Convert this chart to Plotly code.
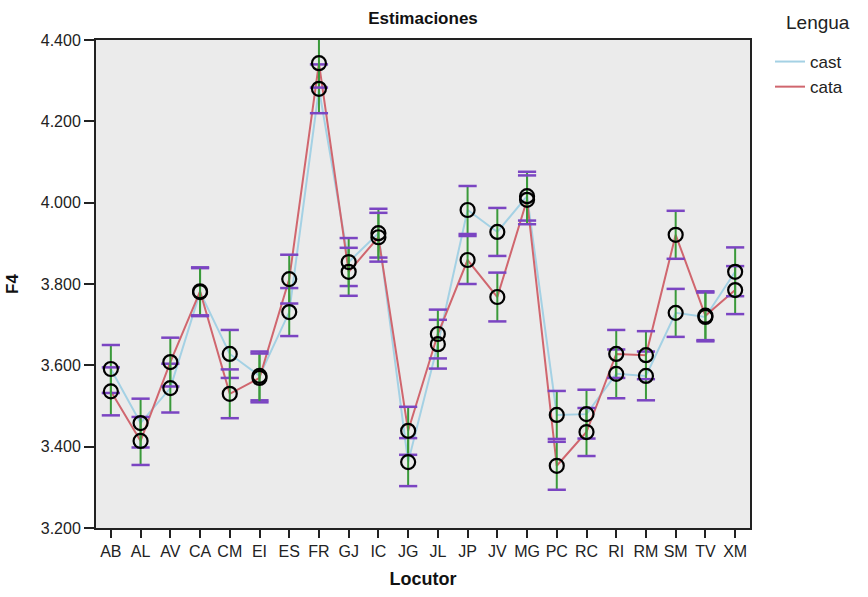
import plotly.graph_objects as go

categories = ["AB", "AL", "AV", "CA", "CM", "EI", "ES", "FR", "GJ", "IC", "JG",
              "JL", "JP", "JV", "MG", "PC", "RC", "RI", "RM", "SM", "TV", "XM"]
cast = [3.591, 3.458, 3.544, 3.780, 3.628, 3.574, 3.731, 4.280, 3.854, 3.925, 3.362,
        3.652, 3.982, 3.928, 4.016, 3.478, 3.480, 3.579, 3.574, 3.729, 3.719, 3.830]
cata = [3.536, 3.414, 3.608, 3.782, 3.530, 3.569, 3.812, 4.343, 3.830, 3.915, 3.439,
        3.677, 3.859, 3.768, 4.007, 3.353, 3.436, 3.628, 3.625, 3.921, 3.722, 3.785]
cast_err = [0.059, 0.060, 0.060, 0.059, 0.059, 0.060, 0.059, 0.060, 0.059, 0.060, 0.059,
            0.060, 0.059, 0.059, 0.060, 0.059, 0.060, 0.060, 0.060, 0.059, 0.060, 0.060]
cata_err = [0.059, 0.059, 0.060, 0.059, 0.060, 0.060, 0.060, 0.060, 0.059, 0.060, 0.059,
            0.060, 0.059, 0.060, 0.060, 0.059, 0.059, 0.059, 0.059, 0.059, 0.060, 0.059]
series = [("cast", cast, cast_err, "#A4D1E4"), ("cata", cata, cata_err, "#D0666E")]
yticks = [3.2, 3.4, 3.6, 3.8, 4.0, 4.2, 4.4]
ytick_text = ["3.200", "3.400", "3.600", "3.800", "4.000", "4.200", "4.400"]

GREEN = "#3A9A3A"
PURPLE = "#7B45C2"

W, H = 868, 597
ML, MR, MT, MB = 96, 118, 40, 69
PW = W - ML - MR
PH = H - MT - MB

fig = go.Figure()

# lines (legend)
for name, vals, err, col in series:
    fig.add_trace(go.Scatter(x=categories, y=vals, mode="lines", name=name,
                             line=dict(color=col, width=2)))

# error bars: green stems, purple caps
for name, vals, err, col in series:
    fig.add_trace(go.Scatter(x=categories, y=vals, mode="markers", showlegend=False,
                             marker=dict(size=1, color="rgba(0,0,0,0)"),
                             error_y=dict(type="data", array=err, color=GREEN,
                                          thickness=2, width=0),
                             hoverinfo="skip"))
    top = [v + e for v, e in zip(vals, err)]
    bot = [v - e for v, e in zip(vals, err)]
    fig.add_trace(go.Scatter(x=categories + categories, y=top + bot, mode="markers",
                             showlegend=False, hoverinfo="skip",
                             marker=dict(symbol="line-ew", size=13,
                                         line=dict(color=PURPLE, width=2.5))))

# markers
for name, vals, err, col in series:
    fig.add_trace(go.Scatter(x=categories, y=vals, mode="markers", showlegend=False,
                             marker=dict(symbol="circle-open", size=14, color="black",
                                         line=dict(color="black", width=2.2))))

FONT = "Liberation Sans, Arial, sans-serif"
fig.update_layout(
    width=W, height=H,
    margin=dict(l=ML, r=MR, t=MT, b=MB),
    paper_bgcolor="white", plot_bgcolor="#EBEBEB",
    font=dict(family=FONT, size=16, color="#222"),
    title=dict(text="<b>Estimaciones</b>", x=(ML + PW / 2) / W, xanchor="center",
               y=1 - 18 / H, yanchor="middle", font=dict(size=17, color="#111")),
    legend=dict(x=(770 - ML) / PW, y=1 + (MT - 44) / PH, xanchor="left", yanchor="top",
                font=dict(size=17, color="#222"), bgcolor="rgba(0,0,0,0)",
                tracegroupgap=0, itemwidth=30),
    showlegend=True,
    annotations=[dict(text="Lengua", xref="paper", yref="paper",
                      x=(818 - ML) / PW, y=1 + (MT - 22) / PH, xanchor="center",
                      yanchor="middle", showarrow=False,
                      font=dict(size=19, color="#222"))],
)
fig.update_xaxes(
    type="category", categoryorder="array", categoryarray=categories,
    range=[-0.5, len(categories) - 0.5],
    showline=True, linecolor="#222", linewidth=2, mirror=True,
    ticks="outside", ticklen=8, tickwidth=1.5, tickcolor="#222",
    showgrid=False, zeroline=False,
    tickfont=dict(size=16, color="#222"),
    title=dict(text="<b>Locutor</b>", font=dict(size=18, color="#111"), standoff=13),
)
fig.update_yaxes(
    range=[3.2, 4.4], tickvals=yticks, ticktext=ytick_text,
    showline=True, linecolor="#222", linewidth=2, mirror=True,
    ticks="outside", ticklen=10, tickwidth=1.5, tickcolor="#222",
    showgrid=False, zeroline=False,
    tickfont=dict(size=16, color="#222"),
    title=dict(text="<b>F4</b>", font=dict(size=17, color="#111"), standoff=18),
)

fig.write_html("out.html")
